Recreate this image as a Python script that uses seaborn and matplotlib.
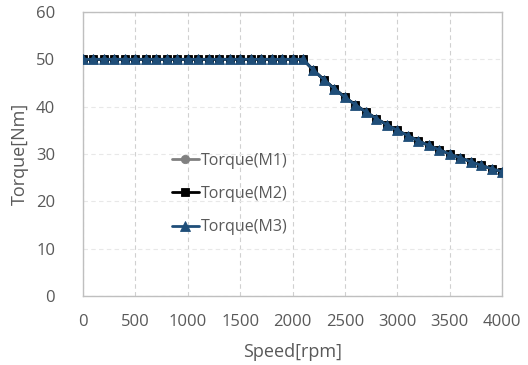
import matplotlib
matplotlib.use("Agg")
import matplotlib.pyplot as plt
import seaborn as sns
import pandas as pd

# Speed (rpm) and torque (Nm) for three motor models
speed = [0, 100, 200, 300, 400, 500, 600, 700, 800, 900, 1000,
         1100, 1200, 1300, 1400, 1500, 1600, 1700, 1800, 1900, 2000,
         2100, 2200, 2300, 2400, 2500, 2600, 2700, 2800, 2900, 3000,
         3100, 3200, 3300, 3400, 3500, 3600, 3700, 3800, 3900, 4000]
torque_m1 = [50, 50, 50, 50, 50, 50, 50, 50, 50, 50, 50,
             50, 50, 50, 50, 50, 50, 50, 50, 50, 50,
             50, 47.7, 45.7, 43.8, 42.0, 40.4, 38.9, 37.5, 36.2, 35.0,
             33.9, 32.8, 31.8, 30.9, 30.0, 29.2, 28.4, 27.6, 26.9, 26.3]
torque_m2 = list(torque_m1)
torque_m3 = list(torque_m1)
series_names = ["Torque(M1)", "Torque(M2)", "Torque(M3)"]

df = pd.DataFrame({
    "speed": speed * 3,
    "torque": torque_m1 + torque_m2 + torque_m3,
    "series": [series_names[0]] * len(speed)
              + [series_names[1]] * len(speed)
              + [series_names[2]] * len(speed),
})

sns.set_theme(style="white")
plt.rcParams["font.family"] = ["Open Sans", "DejaVu Sans"]
text_color = "#595959"

fig = plt.figure(figsize=(5.28, 3.65), dpi=100)
ax = fig.add_axes([83 / 528, 69 / 365, 419 / 528, 284 / 365])

styles = {
    "Torque(M1)": dict(color="#808080", marker="o", markersize=6),
    "Torque(M2)": dict(color="#000000", marker="s", markersize=6),
    "Torque(M3)": dict(color="#1f4e79", marker="^", markersize=7.5),
}
for name in series_names:
    st = styles[name]
    sns.lineplot(data=df[df["series"] == name], x="speed", y="torque", ax=ax,
                 color=st["color"], marker=st["marker"], markersize=st["markersize"],
                 markeredgewidth=0.6, markeredgecolor=st["color"],
                 linewidth=2, label=name, zorder=3)

ax.set_xlim(0, 4000)
ax.set_ylim(0, 60)
ax.set_xticks(range(0, 4001, 500))
ax.set_yticks(range(0, 61, 10))
ax.xaxis.grid(True, color="#d0d0d0", linestyle=(0, (4, 3)), linewidth=0.8)
ax.yaxis.grid(True, color="#e8e8e8", linestyle=(0, (4, 3)), linewidth=0.8)
for s in ax.spines.values():
    s.set_color("#bfbfbf")
    s.set_linewidth(1.0)
ax.tick_params(axis="x", colors=text_color, labelsize=12, length=0, pad=13)
ax.tick_params(axis="y", colors=text_color, labelsize=12, length=0, pad=20)
ax.set_xlabel("Speed[rpm]", color=text_color, fontsize=13, labelpad=9)
ax.set_ylabel("Torque[Nm]", color=text_color, fontsize=13, labelpad=5)

leg = ax.legend(loc="upper left", bbox_to_anchor=(0.196, 0.527), frameon=False,
                fontsize=11.5, handlelength=1.7, handletextpad=0.15,
                labelspacing=1.08, borderaxespad=0)
for t in leg.get_texts():
    t.set_color(text_color)

fig.savefig("out.png", dpi=100)
